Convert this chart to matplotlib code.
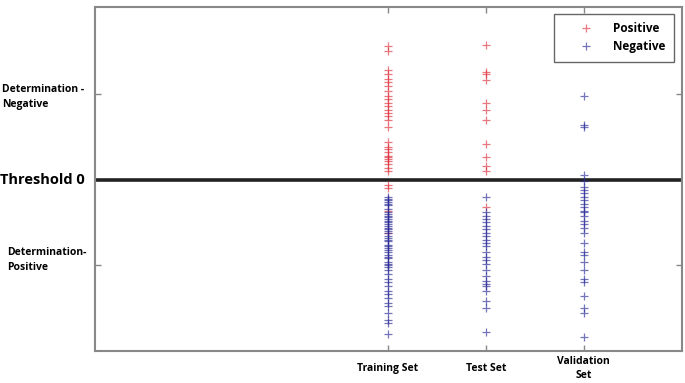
import numpy as np
import matplotlib.pyplot as plt

# decision scores per data set (above 0 = determined negative)
train_pos = [0.78, 0.75, 0.64, 0.62, 0.59, 0.57, 0.55, 0.52, 0.49, 0.47, 0.45,
             0.43, 0.41, 0.39, 0.37, 0.35, 0.31, 0.22, 0.19, 0.18, 0.16, 0.14,
             0.13, 0.12, 0.11, 0.09, 0.07, 0.05, -0.03, -0.05, -0.18, -0.31]
train_neg = [-0.10, -0.11, -0.12, -0.13, -0.14, -0.15, -0.17, -0.19, -0.20,
             -0.21, -0.22, -0.23, -0.24, -0.25, -0.26, -0.27, -0.28, -0.29,
             -0.30, -0.31, -0.33, -0.34, -0.35, -0.36, -0.38, -0.39, -0.40,
             -0.41, -0.42, -0.44, -0.45, -0.46, -0.48, -0.49, -0.50, -0.51,
             -0.53, -0.55, -0.58, -0.60, -0.62, -0.65, -0.67, -0.69, -0.72,
             -0.74, -0.78, -0.82, -0.84, -0.90]
test_pos = [0.79, 0.63, 0.62, 0.58, 0.45, 0.41, 0.35, 0.21, 0.13, 0.08, 0.05,
            -0.16]
test_neg = [-0.10, -0.19, -0.21, -0.23, -0.25, -0.27, -0.29, -0.31, -0.33,
            -0.35, -0.37, -0.39, -0.42, -0.45, -0.47, -0.49, -0.53, -0.56,
            -0.59, -0.61, -0.62, -0.65, -0.71, -0.75, -0.89]
valid_neg = [0.49, 0.32, 0.31, 0.03, -0.01, -0.04, -0.06, -0.08, -0.10, -0.12,
             -0.14, -0.16, -0.18, -0.19, -0.21, -0.24, -0.26, -0.28, -0.31,
             -0.37, -0.42, -0.44, -0.48, -0.53, -0.58, -0.60, -0.68, -0.75,
             -0.78, -0.92]

set_names = ['Training Set', 'Test Set', 'Validation\nSet']
set_pos = [1, 2, 3]

RED = '#e0303c'
BLUE = '#2a2a96'
FONT = 'Open Sans'

fig = plt.figure(figsize=(6.85, 3.83), dpi=100)
ax = fig.add_axes([0.138, 0.084, 0.857, 0.898])

mk = dict(marker='+', linestyle='none', markersize=6, markeredgewidth=0.9,
          alpha=0.65)
ax.plot([set_pos[0]] * len(train_pos), train_pos, color=RED, label='Positive', **mk)
ax.plot([set_pos[1]] * len(test_pos), test_pos, color=RED, **mk)
ax.plot([set_pos[0]] * len(train_neg), train_neg, color=BLUE, label='Negative', **mk)
ax.plot([set_pos[1]] * len(test_neg), test_neg, color=BLUE, **mk)
ax.plot([set_pos[2]] * len(valid_neg), valid_neg, color=BLUE, **mk)

ax.axhline(0, color='#222222', linewidth=2.6, zorder=1)

ax.set_xlim(-2, 4.0)
ax.set_ylim(-1.0, 1.01)

for s in ax.spines.values():
    s.set_color('#888888')
    s.set_linewidth(1.5)

ax.set_xticks(set_pos)
ax.set_xticklabels(set_names, fontfamily=FONT, fontweight='bold', fontsize=7.5,
                   linespacing=1.35, va='center')
ax.set_yticks([-0.5, 0.5])
ax.set_yticklabels([])
ax.tick_params(direction='in', length=4, width=1, color='#888888',
               top=True, right=True)
ax.tick_params(axis='x', pad=13)

# category labels on the left side
fig.text(0.003, 0.748, 'Determination -\nNegative', fontfamily=FONT,
         fontweight='bold', fontsize=7.5, va='center', ha='left', linespacing=1.5)
fig.text(0.0, 0.530, 'Threshold 0', fontfamily=FONT, fontweight='bold',
         fontsize=10.5, va='center', ha='left')
fig.text(0.011, 0.322, 'Determination-\nPositive', fontfamily=FONT,
         fontweight='bold', fontsize=7.5, va='center', ha='left', linespacing=1.5)

leg = ax.legend(loc='upper right', bbox_to_anchor=(0.987, 0.98),
                prop={'family': FONT, 'weight': 'bold', 'size': 8.5},
                fancybox=False, edgecolor='#666666', framealpha=1,
                handletextpad=0.3, borderpad=0.7, labelspacing=0.45,
                handlelength=4.0, borderaxespad=0)
leg.get_frame().set_linewidth(1.0)

fig.savefig('out.png', dpi=100)
